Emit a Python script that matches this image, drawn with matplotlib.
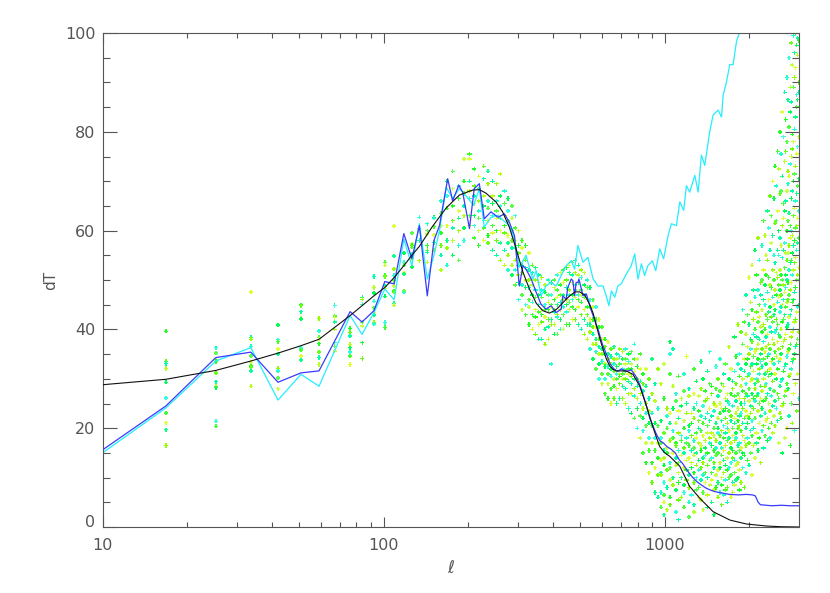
import numpy as np
import matplotlib
matplotlib.use("Agg")
import matplotlib.pyplot as plt
from matplotlib.ticker import FixedLocator, NullFormatter
from matplotlib.transforms import ScaledTranslation

# theory curve (black)
th_l = [10, 16.8, 25.3, 33.7, 42.1, 50.8, 58.9, 76, 83.8, 92.4, 101, 109, 118, 126, 134,
        149, 167, 186, 207, 219, 231, 251, 265, 280, 296, 313, 330, 349, 368, 389, 411,
        434, 459, 480, 498, 519, 541, 556, 571, 586, 603, 620, 637, 655, 673, 700, 730,
        771, 815, 861, 908, 959, 1000, 1042, 1131, 1227, 1333, 1486, 1706, 1955, 2303, 2600, 3000]
th_dt = [28.8, 29.9, 31.7, 33.6, 35.2, 36.7, 38.0, 42.8, 44.8, 46.8, 48.5, 50.5, 52.9, 55.0, 56.8,
         60.8, 64.6, 67.2, 68.2, 68.3, 67.6, 65.8, 63.8, 60.7, 56.3, 51.6, 48.2, 45.3, 43.8, 43.3, 44.0,
         45.4, 46.8, 47.6, 47.6, 47.0, 45.0, 43.3, 40.8, 38.4, 36.0, 34.0, 32.6, 31.9, 31.6, 31.6, 31.6,
         30.9, 28.5, 24.5, 20.2, 16.3, 15.0, 14.3, 12.3, 8.2, 5.8, 3.1, 1.4, 0.6, 0.2, 0.05, 0.0]

# binned spectrum (blue)
bl_l = [10, 16.8, 25.3, 33.7, 42.1, 50.8, 58.9, 76, 83.8, 92.4, 101, 109, 118, 126, 134, 143, 151,
        158, 169, 176, 185, 191, 202, 210, 219, 228, 241, 255, 269, 280, 292, 304, 313, 321, 335,
        349, 363, 378, 394, 411, 428, 434, 446, 452, 465, 471, 478, 484, 491, 495, 512, 526, 548,
        579, 600, 620, 640, 660, 680, 700, 730, 760, 790, 815, 840, 861, 885, 908, 930, 960, 990,
        1016, 1050, 1090, 1126, 1160, 1200, 1250, 1300, 1350, 1400, 1450, 1500, 1590, 1700, 1830,
        1950, 2050, 2100, 2150, 2190, 2300, 2400, 2600, 2800, 3000]
bl_dt = [15.6, 24.5, 34.3, 35.4, 29.3, 31.2, 31.6, 43.6, 41.5, 43.8, 49.7, 49.2, 59.4, 54.3, 61.0, 46.8, 58.0,
         61.0, 70.5, 66.0, 69.2, 67.8, 60.4, 68.5, 69.5, 62.4, 63.8, 62.7, 63.4, 61.7, 59.0, 48.8, 52.9, 52.2, 50.2,
         47.5, 45.1, 44.1, 44.8, 43.4, 44.1, 46.8, 46.1, 48.5, 50.2, 49.9, 46.8, 49.5, 49.5, 50.2, 46.8, 47.2, 43.8,
         40.0, 37.0, 35.0, 33.0, 32.0, 31.5, 32.0, 31.5, 31.8, 30.5, 28.8, 26.5, 24.5, 22.0, 20.5, 19.0, 17.5, 17.0,
         16.3, 15.8, 15.0, 13.6, 12.8, 11.5, 10.2, 9.2, 8.5, 7.9, 7.5, 7.2, 6.9, 6.6, 6.5,
         6.6, 6.5, 6.3, 5.0, 4.5, 4.4, 4.3, 4.4, 4.3, 4.3]

# binned spectrum incl. noise (cyan)
cy_l = [10, 16.8, 25.3, 33.7, 42.1, 50.8, 58.9, 76, 83.8, 92.4, 101, 109, 118, 126, 134, 143, 151,
        158, 167, 176, 186, 198, 209, 219, 228, 241, 255, 266, 280, 292, 304, 321, 339, 349, 363,
        378, 394, 411, 428, 446, 465, 478, 491, 512, 533, 556, 579, 603, 619, 633, 646, 664, 681,
        700, 730, 760, 782, 803, 826, 848, 871, 903, 929, 960, 991, 1028, 1056, 1100, 1131, 1168,
        1194, 1227, 1279, 1315, 1350, 1388, 1445, 1486, 1548, 1592, 1614, 1660, 1703, 1750, 1800,
        1849, 1900]
cy_dt = [15.0, 24.1, 33.6, 36.3, 25.7, 30.9, 28.5, 42.8, 39.0, 43.4, 48.2, 46.0, 58.3, 52.9, 61.4, 50.2, 55.0,
         60.0, 68.8, 66.5, 68.5, 66.8, 65.1, 68.5, 60.7, 62.7, 63.1, 62.1, 61.0, 58.3, 52.6, 55.0, 50.2, 51.9, 46.8,
         48.8, 49.5, 48.8, 50.9, 52.9, 53.9, 52.2, 57.0, 53.6, 54.6, 50.2, 48.8, 48.8, 46.8, 44.8, 47.8, 46.5, 48.8,
         49.2, 51.2, 52.9, 55.3, 50.2, 53.3, 50.9, 52.9, 53.9, 51.9, 56.3, 54.3, 59.0, 61.4, 61.0, 65.8, 64.1,
         69.1, 67.8, 71.2, 67.8, 75.3, 73.2, 80.0, 83.4, 84.4, 83.0, 87.5, 90.2, 93.6, 93.6, 98.3,
         100.3, 104.0]

# individual estimates (dots), one column of values per multipole bin
low_l = [16.8, 25.3, 33.7, 42.1, 50.8, 58.9, 67, 76, 84, 92.4, 101, 109, 118, 126, 134, 143, 151]
low_dt = [[39.6, 33.5, 33.1, 32.1, 29.3, 26.1, 23.1, 21.1, 19.7, 16.5],
          [36.3, 35.2, 33.8, 33.5, 31.2, 29.4, 28.5, 28.2, 21.4, 20.4],
          [47.6, 38.4, 38.0, 36.6, 34.6, 33.3, 32.6, 32.3, 31.6, 28.5],
          [40.9, 37.9, 37.5, 36.0, 35.0, 32.1, 31.6, 30.2, 28.0],
          [45.0, 44.8, 43.6, 42.2, 42.1, 36.2, 35.8, 34.6, 33.8],
          [42.2, 39.7, 38.4, 38.0, 37.1, 35.4, 34.3, 32.9],
          [44.9, 44.8, 42.7, 42.4, 41.5, 40.0, 37.3, 36.6, 35.6],
          [40.2, 39.4, 38.7, 37.0, 36.3, 35.4, 34.6, 32.9],
          [46.5, 46.1, 45.1, 41.4, 40.7, 37.3, 34.1],
          [50.7, 48.5, 47.4, 45.7, 44.4, 43.4, 42.9, 41.4, 41.1],
          [53.6, 53.0, 50.9, 50.7, 48.8, 48.3, 46.7, 41.4, 40.4],
          [60.9, 54.9, 52.2, 50.9, 49.9, 48.8, 47.8, 47.5, 45.3, 44.9],
          [55.5, 53.6, 53.0, 51.4, 51.2, 47.8, 47.5],
          [59.5, 57.3, 57.0, 56.6, 55.3, 54.3, 52.6],
          [62.7, 60.4, 60.0, 58.0, 53.9],
          [61.4, 60.0, 59.3, 57.0, 56.0, 55.6, 53.6],
          [62.7, 62.5, 60.8, 59.1, 57.6, 56.0]]

peak_l = [160, 168, 176, 185, 193, 202, 210, 218, 227, 235, 244, 252, 260, 269, 277, 286, 294]
peak_dt = [[66, 63.5, 61, 59.5, 57, 55, 52], [70, 67, 64.5, 61, 58, 56.5, 53], [72, 68.5, 65, 62, 60.5, 58, 55],
           [69, 66.5, 64, 62.5, 60, 57, 54], [74.5, 70, 67.5, 65, 63, 60.5, 58], [75.5, 74.5, 70, 68, 66.5, 63, 61],
           [72.5, 69, 67, 65.5, 63, 61, 58.5], [71, 68.5, 66, 64, 62.5, 60, 57], [73, 70.5, 67, 65, 62, 60.5, 58],
           [72, 69.5, 66, 64.5, 62, 59, 57.5], [70, 67, 65.5, 63, 61, 59.5, 56], [69.5, 66, 64, 62.5, 60, 58, 55],
           [71.5, 67, 65, 62.5, 60, 57.5, 54], [68, 65.5, 63, 61, 59.5, 56, 53], [66.5, 64, 62, 59, 57.5, 55, 52],
           [65, 62.5, 60, 58, 56.5, 53, 51], [63, 60.5, 58, 56.5, 54, 52, 49]]

mid_l = [302, 311, 320, 329, 338, 347, 356, 365, 375, 385, 395, 405, 415, 425, 436, 447, 458, 469,
         481, 493, 505, 517, 530, 543, 556, 570, 584, 598, 613, 628, 643, 659, 675, 691, 708, 725,
         743, 761, 780, 799, 818, 838, 859, 880, 901, 923, 946]
mid_dt = [[60, 57, 55.5, 53, 51, 49.5, 46], [58, 56.5, 53, 51.5, 49, 47, 44], [57, 54, 52.5, 50, 48.5, 45, 43],
          [55.5, 52, 50, 48.5, 46, 44.5, 41], [53, 51.5, 49, 47, 45.5, 43, 40], [52.5, 50, 48, 46.5, 44, 42.5, 39],
          [51, 49.5, 47, 45, 43.5, 41, 38], [50.5, 48, 46.5, 44, 43, 41.5, 38], [49, 47.5, 45, 44, 42.5, 40, 37],
          [50, 47, 45.5, 44, 42, 40.5, 38], [49.5, 47, 45, 44.5, 42, 41, 33], [50, 48.5, 46, 44, 43.5, 41, 39],
          [51, 48, 46.5, 45, 43, 42.5, 39], [51.5, 49, 47, 45.5, 44, 42, 40], [52, 49.5, 47, 46, 44.5, 43, 40],
          [52.5, 50, 48.5, 46, 45, 43.5, 41], [53, 51.5, 48, 47, 45.5, 44, 41], [53.5, 51, 49.5, 47, 46, 44.5, 42],
          [54, 51.5, 49, 48, 46.5, 44, 42], [53, 51, 49.5, 47, 46, 44.5, 41], [52, 50.5, 48, 47, 45.5, 43, 40],
          [51.5, 49, 47, 46.5, 44, 42, 39], [50, 48.5, 46, 44.5, 43, 41, 38], [48.5, 46, 44.5, 42, 41, 39.5, 36],
          [46, 44.5, 42, 40.5, 39, 37, 34], [44.5, 42, 40.5, 38, 37, 35.5, 32], [42, 40.5, 38, 36.5, 35, 33, 30],
          [40.5, 38, 36, 35, 33.5, 31, 29], [38, 36.5, 35, 33, 32.5, 30, 27], [37.5, 35, 34, 32.5, 31, 29, 26],
          [36, 34.5, 33, 32, 30.5, 28, 25], [36.5, 34, 33, 31.5, 30, 28.5, 26], [35, 34, 32.5, 31, 30, 28, 25],
          [36, 34.5, 33, 31, 30.5, 29, 26], [35.5, 34, 32, 31, 30, 28.5, 26], [36, 34, 33, 31.5, 30, 28, 25],
          [35, 33.5, 32, 31, 29.5, 27, 24], [35.5, 33, 32, 30.5, 29, 27, 23], [37, 34, 31.5, 30, 28, 26.5, 22],
          [34, 32.5, 30, 28.5, 26, 24, 20], [35, 32, 29.5, 27, 25, 22.5, 18], [31, 29, 27.5, 24, 22, 19.5, 15],
          [32, 28.5, 25, 23, 20.5, 17, 13], [30, 26, 23.5, 21, 18, 15.5, 11], [34, 27, 23, 20.5, 17, 13, 9],
          [29, 25.5, 21, 18, 15.5, 12, 7], [32, 24, 20.5, 17, 14, 10.5, 6]]

tail_l = [970, 995, 1020, 1045, 1070, 1095, 1120, 1145, 1170, 1195, 1220, 1245, 1270, 1295, 1320,
          1345, 1370, 1395, 1420, 1445, 1470, 1495, 1520, 1545, 1570, 1595, 1620, 1645, 1670, 1695,
          1720, 1745, 1770, 1795, 1820, 1845, 1870, 1895, 1920, 1945, 1970, 1995, 2020, 2045, 2070,
          2095, 2120, 2145, 2170, 2195, 2220, 2245, 2270, 2295, 2320, 2345, 2370, 2395, 2420, 2445,
          2470, 2495, 2520, 2545, 2570, 2595, 2620, 2645, 2670, 2695, 2720, 2745, 2770, 2795, 2820,
          2845, 2870, 2895, 2920, 2945, 2970, 2995]
tail_dt = [[29, 21.5, 18, 17, 13.5, 11, 10.5, 7, 4], [33, 26, 19, 15.5, 14, 12.5, 9, 6.5, 5, 2.5],
           [24, 22.5, 20, 16, 15, 11.5, 8, 3.5], [37.5, 35, 31, 23, 21, 17.5, 13, 12, 9.5, 6, 4.5],
           [36, 28.5, 24, 19.5, 18, 15, 10, 8.5], [27, 25.5, 21, 17, 16.5, 14, 12.5, 7.5, 3],
           [30.5, 23.5, 22, 19, 15.5, 13, 11, 9, 5.5, 1.5], [26, 24.5, 18.5, 17.5, 14.5, 10, 6],
           [31, 27.5, 21.5, 20, 16, 15, 12, 8.5, 7, 4], [34.5, 25, 23, 18, 17, 13.5, 11.5, 9.5],
           [28, 26.5, 20.5, 19.5, 16.5, 14, 10.5, 8, 5, 2], [23, 21, 18.5, 15.5, 13, 12, 6.5],
           [32, 27, 24, 22, 17.5, 16, 14.5, 11, 9, 4.5, 3], [29.5, 25, 19, 18, 15, 12.5, 10, 7.5],
           [26.5, 23.5, 21.5, 20, 17, 13.5, 11.5, 8, 6], [33.5, 28, 22.5, 19.5, 16.5, 15.5, 12, 9.5, 5.5],
           [30, 24.5, 21, 18.5, 14, 13, 10.5, 7, 3.5], [27.5, 25.5, 22, 17.5, 16, 14.5, 11, 9],
           [31.5, 26, 23, 20.5, 19, 15, 12.5, 10, 6.5, 4], [35.5, 29, 24, 21.5, 18, 17, 13.5, 8.5],
           [28.5, 27, 22.5, 19, 16.5, 14, 11, 9.5, 5], [25, 23.5, 20, 18.5, 15.5, 13, 12, 7.5, 2.5],
           [32.5, 28, 24.5, 21, 17.5, 16, 14.5, 10.5, 8], [30, 26.5, 22, 20, 19, 15, 11.5, 9, 6],
           [34, 27.5, 25, 23, 18.5, 17, 13, 12, 7], [29, 24, 21.5, 19.5, 16, 14.5, 10, 8.5, 4.5],
           [31, 28.5, 23.5, 20.5, 18, 15.5, 13.5, 11, 6.5], [33, 26, 24, 22, 19, 16.5, 12.5, 9.5, 7.5],
           [27, 25.5, 21, 20, 17.5, 14, 11.5, 8, 5], [36.5, 30, 25, 23.5, 19.5, 18, 15, 12, 10],
           [32, 27, 22.5, 21.5, 17, 16, 13, 10.5, 6], [29.5, 28, 24.5, 20, 18.5, 15.5, 14, 9, 7],
           [38.5, 31.5, 26.5, 22, 21, 17.5, 13.5, 11, 8.5], [34.5, 29, 25.5, 23, 19, 18, 15, 12.5, 9.5],
           [41, 33, 27, 24, 21.5, 20, 16.5, 13, 10], [35, 30.5, 26, 22.5, 20.5, 17, 15.5, 11.5, 7.5],
           [39.5, 32, 28.5, 25, 23, 19.5, 16, 14, 9], [44, 37, 30, 27.5, 24, 21, 18.5, 15, 12],
           [41.5, 34, 31.5, 26, 25, 22, 17.5, 14.5, 8], [47, 39, 33, 29, 27, 23.5, 20, 16.5, 11],
           [43, 36.5, 34, 30.5, 26.5, 22.5, 21, 18, 13.5], [50.5, 41, 35, 31, 28, 25.5, 22, 17, 12.5],
           [45.5, 38, 36, 32.5, 29.5, 24.5, 23, 19.5, 15], [53, 44, 37.5, 33, 30, 27, 21.5, 18.5, 10.5],
           [48, 42, 39, 34.5, 31.5, 26, 24, 20, 16.5], [56, 46.5, 40, 35.5, 29, 28, 25.5, 22, 14],
           [51, 43.5, 38.5, 36, 33, 30, 26.5, 19, 17], [58.5, 48, 41.5, 37, 34, 29.5, 27, 23.5, 15.5],
           [54, 45, 42.5, 38, 32, 31, 25, 21, 18], [49.5, 47, 40.5, 35, 33.5, 28.5, 26, 22.5, 13],
           [57, 50, 44, 39.5, 36, 32.5, 27.5, 24, 19.5], [62, 52, 46, 41, 37.5, 34, 30, 25.5, 20.5, 16],
           [59, 49, 45, 40, 35.5, 31, 28.5, 23, 18.5], [55, 51, 43, 38.5, 36.5, 33, 29, 26, 21.5],
           [64, 54, 47.5, 42, 39, 34.5, 31.5, 27, 22, 17.5], [60.5, 50.5, 46, 43.5, 37, 35, 30.5, 25, 20],
           [67, 56, 49, 44.5, 40.5, 36, 32, 28, 23.5, 18], [63, 57.5, 48.5, 42.5, 39.5, 33.5, 31, 26.5, 21],
           [70, 59, 52, 46.5, 41.5, 38, 34, 29.5, 24.5, 19], [66.5, 55, 50, 45, 43, 37, 33, 27.5, 22.5],
           [73, 61.5, 53.5, 48, 44, 39.5, 35.5, 31, 25.5, 20.5], [69, 62, 51.5, 47, 42, 40, 34.5, 30, 24],
           [76, 64, 56, 50.5, 45.5, 41, 37.5, 32, 27, 21.5], [72.5, 60, 55, 49, 46.5, 39, 36, 33.5, 26, 17],
           [80, 67.5, 58.5, 52, 48, 43.5, 38.5, 34, 28.5, 23], [75.5, 68, 57, 51, 47, 44.5, 40, 35, 29.5, 22],
           [84, 71, 61, 54.5, 50, 45, 41.5, 36.5, 30, 24.5, 15], [79, 65.5, 62.5, 56, 49, 46, 42, 37.5, 31.5, 25],
           [88, 74, 64, 57.5, 52.5, 47.5, 43, 38, 32.5, 26.5, 18], [82.5, 76, 66, 55.5, 51, 48.5, 44.5, 39, 33, 27.5],
           [91, 78, 68, 60, 54, 50, 45.5, 40.5, 34.5, 29, 20], [86.5, 72, 69.5, 62, 55.5, 49.5, 46, 41, 35.5, 28],
           [95, 81, 71, 63.5, 57, 52, 47, 42.5, 36, 30.5, 22.5], [89, 84, 73.5, 61, 58.5, 53.5, 48, 43, 37, 31, 16.5],
           [98, 86, 75, 66.5, 60, 54, 49.5, 44, 38.5, 32, 25], [93.5, 79.5, 76.5, 68, 59, 55.5, 51, 45.5, 39.5, 33.5, 21],
           [99.5, 89, 78, 70, 63, 57, 52, 46, 40, 34, 27], [96, 91, 80.5, 71.5, 64.5, 58, 53.5, 47.5, 41.5, 35, 19.5],
           [100, 93, 83, 73, 66, 60.5, 54.5, 48.5, 42, 36.5, 29], [97.5, 87.5, 85, 75.5, 67.5, 61, 56, 50, 43.5, 37, 23.5],
           [99, 95.5, 86.5, 77, 69, 62.5, 57.5, 51, 44.5, 38, 31], [98.5, 90, 88, 79, 70.5, 64, 58.5, 52.5, 45, 39.5, 26]]

dot_colors = ['#22ff22', '#66ff11', '#00ffaa', '#bbff22', '#00ff55', '#33ffdd', '#44ff33',
              '#ddff33', '#11ff88', '#99ff00', '#22ffcc', '#55ff44', '#ccff44']
grey = '#555555'

pts_l, pts_dt = [], []
for cols_l, cols_dt in [(low_l, low_dt), (peak_l, peak_dt), (mid_l, mid_dt), (tail_l, tail_dt)]:
    for l, vals in zip(cols_l, cols_dt):
        pts_l += [l] * len(vals)
        pts_dt += vals
pts_c = [dot_colors[i % len(dot_colors)] for i in range(len(pts_l))]

plt.rcParams['font.family'] = ['DejaVu Sans']
fig = plt.figure(figsize=(8.30, 5.93), dpi=100)
ax = fig.add_axes([0.1235, 0.1113, 0.839, 0.833])

ax.scatter(pts_l, pts_dt, s=9, c=pts_c, marker='P', linewidths=0, zorder=1)
ax.plot(cy_l, cy_dt, color='#22eeff', lw=0.9, zorder=2)
ax.plot(bl_l, bl_dt, color='#3a3aff', lw=0.9, zorder=3)
ax.plot(th_l, th_dt, color='#111111', lw=0.8, zorder=4)

ax.set_xscale('log')
ax.set_xlim(10, 3000)
ax.set_ylim(0, 100)

ax.xaxis.set_major_locator(FixedLocator([10, 100, 1000]))
ax.xaxis.set_minor_locator(FixedLocator([m * d for d in (10, 100, 1000) for m in range(2, 10) if m * d < 3000]))
ax.xaxis.set_minor_formatter(NullFormatter())
ax.set_xticklabels(['10', '100', '1000'])
ax.set_yticks(range(0, 101, 20))
ax.set_yticks(range(0, 101, 5), minor=True)

ax.tick_params(which='both', direction='in', top=True, right=True, colors=grey,
               labelcolor=grey, labelsize=11.5, width=0.8)
ax.tick_params(axis='y', which='major', length=10, pad=5)
ax.tick_params(axis='y', which='minor', length=5)
ax.tick_params(axis='x', which='major', length=7, pad=8)
ax.tick_params(axis='x', which='minor', length=3.3)
for sp in ax.spines.values():
    sp.set_color(grey)
    sp.set_linewidth(0.8)

# the "0" label sits a little above the axis in the original
zero = ax.get_yticklabels()[0]
zero.set_transform(zero.get_transform() + ScaledTranslation(0, 4 / 72, fig.dpi_scale_trans))

ax.set_xlabel('$\\ell$', color=grey, fontsize=12, labelpad=4)
ax.set_ylabel('dT', color=grey, fontsize=11, labelpad=5)

fig.savefig('out.png', dpi=100)
